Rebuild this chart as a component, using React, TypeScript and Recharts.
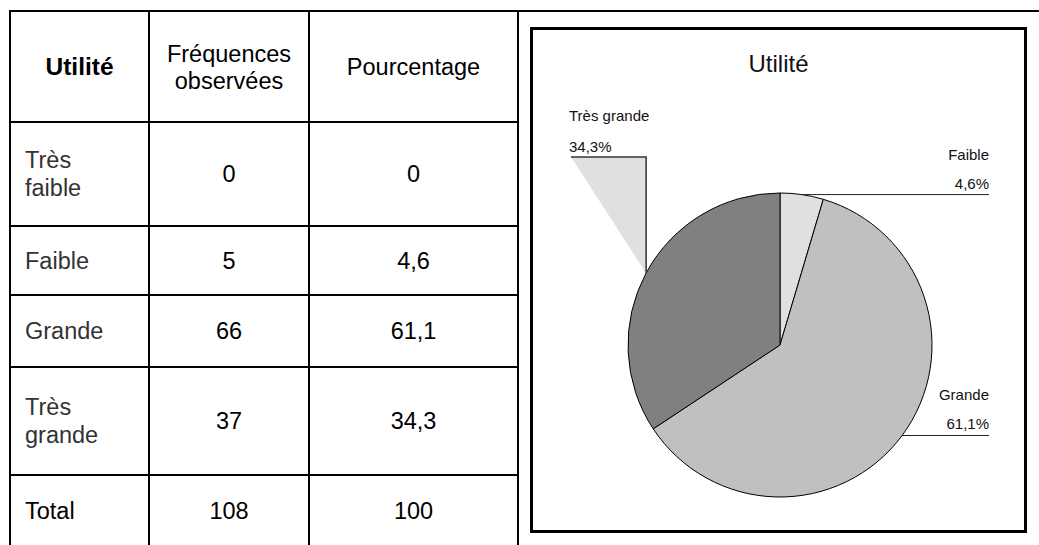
import { PieChart, Pie, Cell } from "recharts";

// table data
const rowLabels = ["Très faible", "Faible", "Grande", "Très grande", "Total"];
const frequencies = [0, 5, 66, 37, 108];
const percentages = [0, 4.6, 61.1, 34.3, 100];

// pie data
const pieNames = ["Très faible", "Faible", "Grande", "Très grande"];
const pieValues = [0, 4.6, 61.1, 34.3];
const pieColors = ["#ffffff", "#e0e0e0", "#c0c0c0", "#808080"];

const pieData = pieNames.map((name, i) => ({ name, value: pieValues[i] }));

const FONT = "'Liberation Sans', Arial, sans-serif";
const RAD = Math.PI / 180;

const fmt = (v: number) => String(v).replace(".", ",");

// table geometry
const colX = [10, 149, 309, 518];
const rowY = [11, 122, 226, 295, 367, 475, 547];

// chart box
const BOX = { left: 531, top: 28, width: 495, height: 504 };

// eslint-disable-next-line @typescript-eslint/no-explicit-any
const renderLabel = (props: any) => {
  const { cx, cy, midAngle, outerRadius, value, name } = props;
  if (!value) return null;
  const px = cx + outerRadius * Math.cos(-midAngle * RAD);
  const py = cy + outerRadius * Math.sin(-midAngle * RAD);
  const pct = value.toFixed(1).replace(".", ",") + "%";
  if (px >= cx) {
    const xEnd = cx + 209;
    return (
      <g>
        <line x1={px} y1={py} x2={xEnd} y2={py} stroke="#222" strokeWidth={1} />
        <text x={xEnd} y={py - 35} textAnchor="end" fontSize={15} fill="#111" fontFamily={FONT}>
          {name}
        </text>
        <text x={xEnd} y={py - 6} textAnchor="end" fontSize={15} fill="#111" fontFamily={FONT}>
          {pct}
        </text>
      </g>
    );
  }
  const xStart = cx - 209;
  const yTop = cy - 188;
  const pts = `${xStart},${yTop} ${px},${yTop} ${px},${py}`;
  return (
    <g>
      <polygon points={pts} fill="#e0e0e0" stroke="none" />
      <polyline points={pts} fill="none" stroke="#333" strokeWidth={1.5} />
      <text x={xStart - 2} y={yTop - 36} fontSize={15} fill="#111" fontFamily={FONT}>
        {name}
      </text>
      <text x={xStart - 2} y={yTop - 5} fontSize={15} fill="#111" fontFamily={FONT}>
        {pct}
      </text>
    </g>
  );
};

const Cellbox = ({
  x1,
  x2,
  y1,
  y2,
  align,
  children,
  style,
}: {
  x1: number;
  x2: number;
  y1: number;
  y2: number;
  align: "left" | "center";
  children: React.ReactNode;
  style?: React.CSSProperties;
}) => (
  <div
    style={{
      position: "absolute",
      left: x1,
      top: y1,
      width: x2 - x1,
      height: y2 - y1,
      display: "flex",
      alignItems: "center",
      justifyContent: align === "center" ? "center" : "flex-start",
      paddingLeft: align === "left" ? 15 : 0,
      boxSizing: "border-box",
      fontFamily: FONT,
      fontSize: 23.5,
      lineHeight: "28px",
      textAlign: align,
      ...style,
    }}
  >
    {children}
  </div>
);

export default function App() {
  const lineStyle: React.CSSProperties = { position: "absolute", background: "#000" };
  return (
    <div
      style={{
        position: "absolute",
        left: 0,
        top: 0,
        width: 1039,
        height: 545,
        overflow: "hidden",
        background: "#fff",
      }}
    >
      {/* grid lines */}
      <div style={{ ...lineStyle, left: 10, top: 10, width: 1029, height: 2 }} />
      {colX.map((x) => (
        <div key={"v" + x} style={{ ...lineStyle, left: x - 1, top: 10, width: 2, height: 540 }} />
      ))}
      {rowY.slice(1, 6).map((y) => (
        <div key={"h" + y} style={{ ...lineStyle, left: 10, top: y - 1, width: 508, height: 2 }} />
      ))}

      {/* header */}
      <Cellbox x1={colX[0]} x2={colX[1]} y1={rowY[0]} y2={rowY[1]} align="center" style={{ fontWeight: "bold", fontSize: 24.5 }}>
        Utilité
      </Cellbox>
      <Cellbox x1={colX[1]} x2={colX[2]} y1={rowY[0] + 2} y2={rowY[1]} align="center" style={{ lineHeight: "27px" }}>
        <div style={{ width: 140 }}>Fréquences observées</div>
      </Cellbox>
      <Cellbox x1={colX[2]} x2={colX[3]} y1={rowY[0]} y2={rowY[1]} align="center">
        Pourcentage
      </Cellbox>

      {/* rows */}
      {rowLabels.map((label, i) => (
        <div key={label}>
          <Cellbox
            x1={colX[0]}
            x2={colX[1]}
            y1={rowY[i + 1]}
            y2={rowY[i + 2]}
            align="left"
            style={{ color: label === "Total" ? "#000" : "#333" }}
          >
            <div style={{ maxWidth: 95 }}>{label}</div>
          </Cellbox>
          <Cellbox x1={colX[1]} x2={colX[2]} y1={rowY[i + 1]} y2={rowY[i + 2]} align="center">
            {frequencies[i]}
          </Cellbox>
          <Cellbox x1={colX[2]} x2={colX[3]} y1={rowY[i + 1]} y2={rowY[i + 2]} align="center">
            {fmt(percentages[i])}
          </Cellbox>
        </div>
      ))}

      {/* chart box */}
      <div
        style={{
          position: "absolute",
          left: BOX.left - 1,
          top: BOX.top - 1,
          width: BOX.width + 2,
          height: BOX.height + 2,
          border: "3px solid #000",
          boxSizing: "border-box",
        }}
      />
      <div
        style={{
          position: "absolute",
          left: BOX.left,
          top: 50,
          width: BOX.width,
          textAlign: "center",
          fontFamily: FONT,
          fontSize: 24,
          lineHeight: "28px",
          color: "#111",
        }}
      >
        Utilité
      </div>
      <div style={{ position: "absolute", left: BOX.left, top: BOX.top }}>
        <PieChart width={BOX.width} height={BOX.height} margin={{ top: 0, right: 0, bottom: 0, left: 0 }}>
          <Pie
            data={pieData}
            dataKey="value"
            nameKey="name"
            cx={249}
            cy={317}
            outerRadius={152}
            startAngle={90}
            endAngle={-270}
            stroke="#000"
            strokeWidth={1}
            label={renderLabel}
            labelLine={false}
            isAnimationActive={false}
          >
            {pieData.map((d, i) => (
              <Cell key={d.name} fill={pieColors[i]} />
            ))}
          </Pie>
        </PieChart>
      </div>
    </div>
  );
}
